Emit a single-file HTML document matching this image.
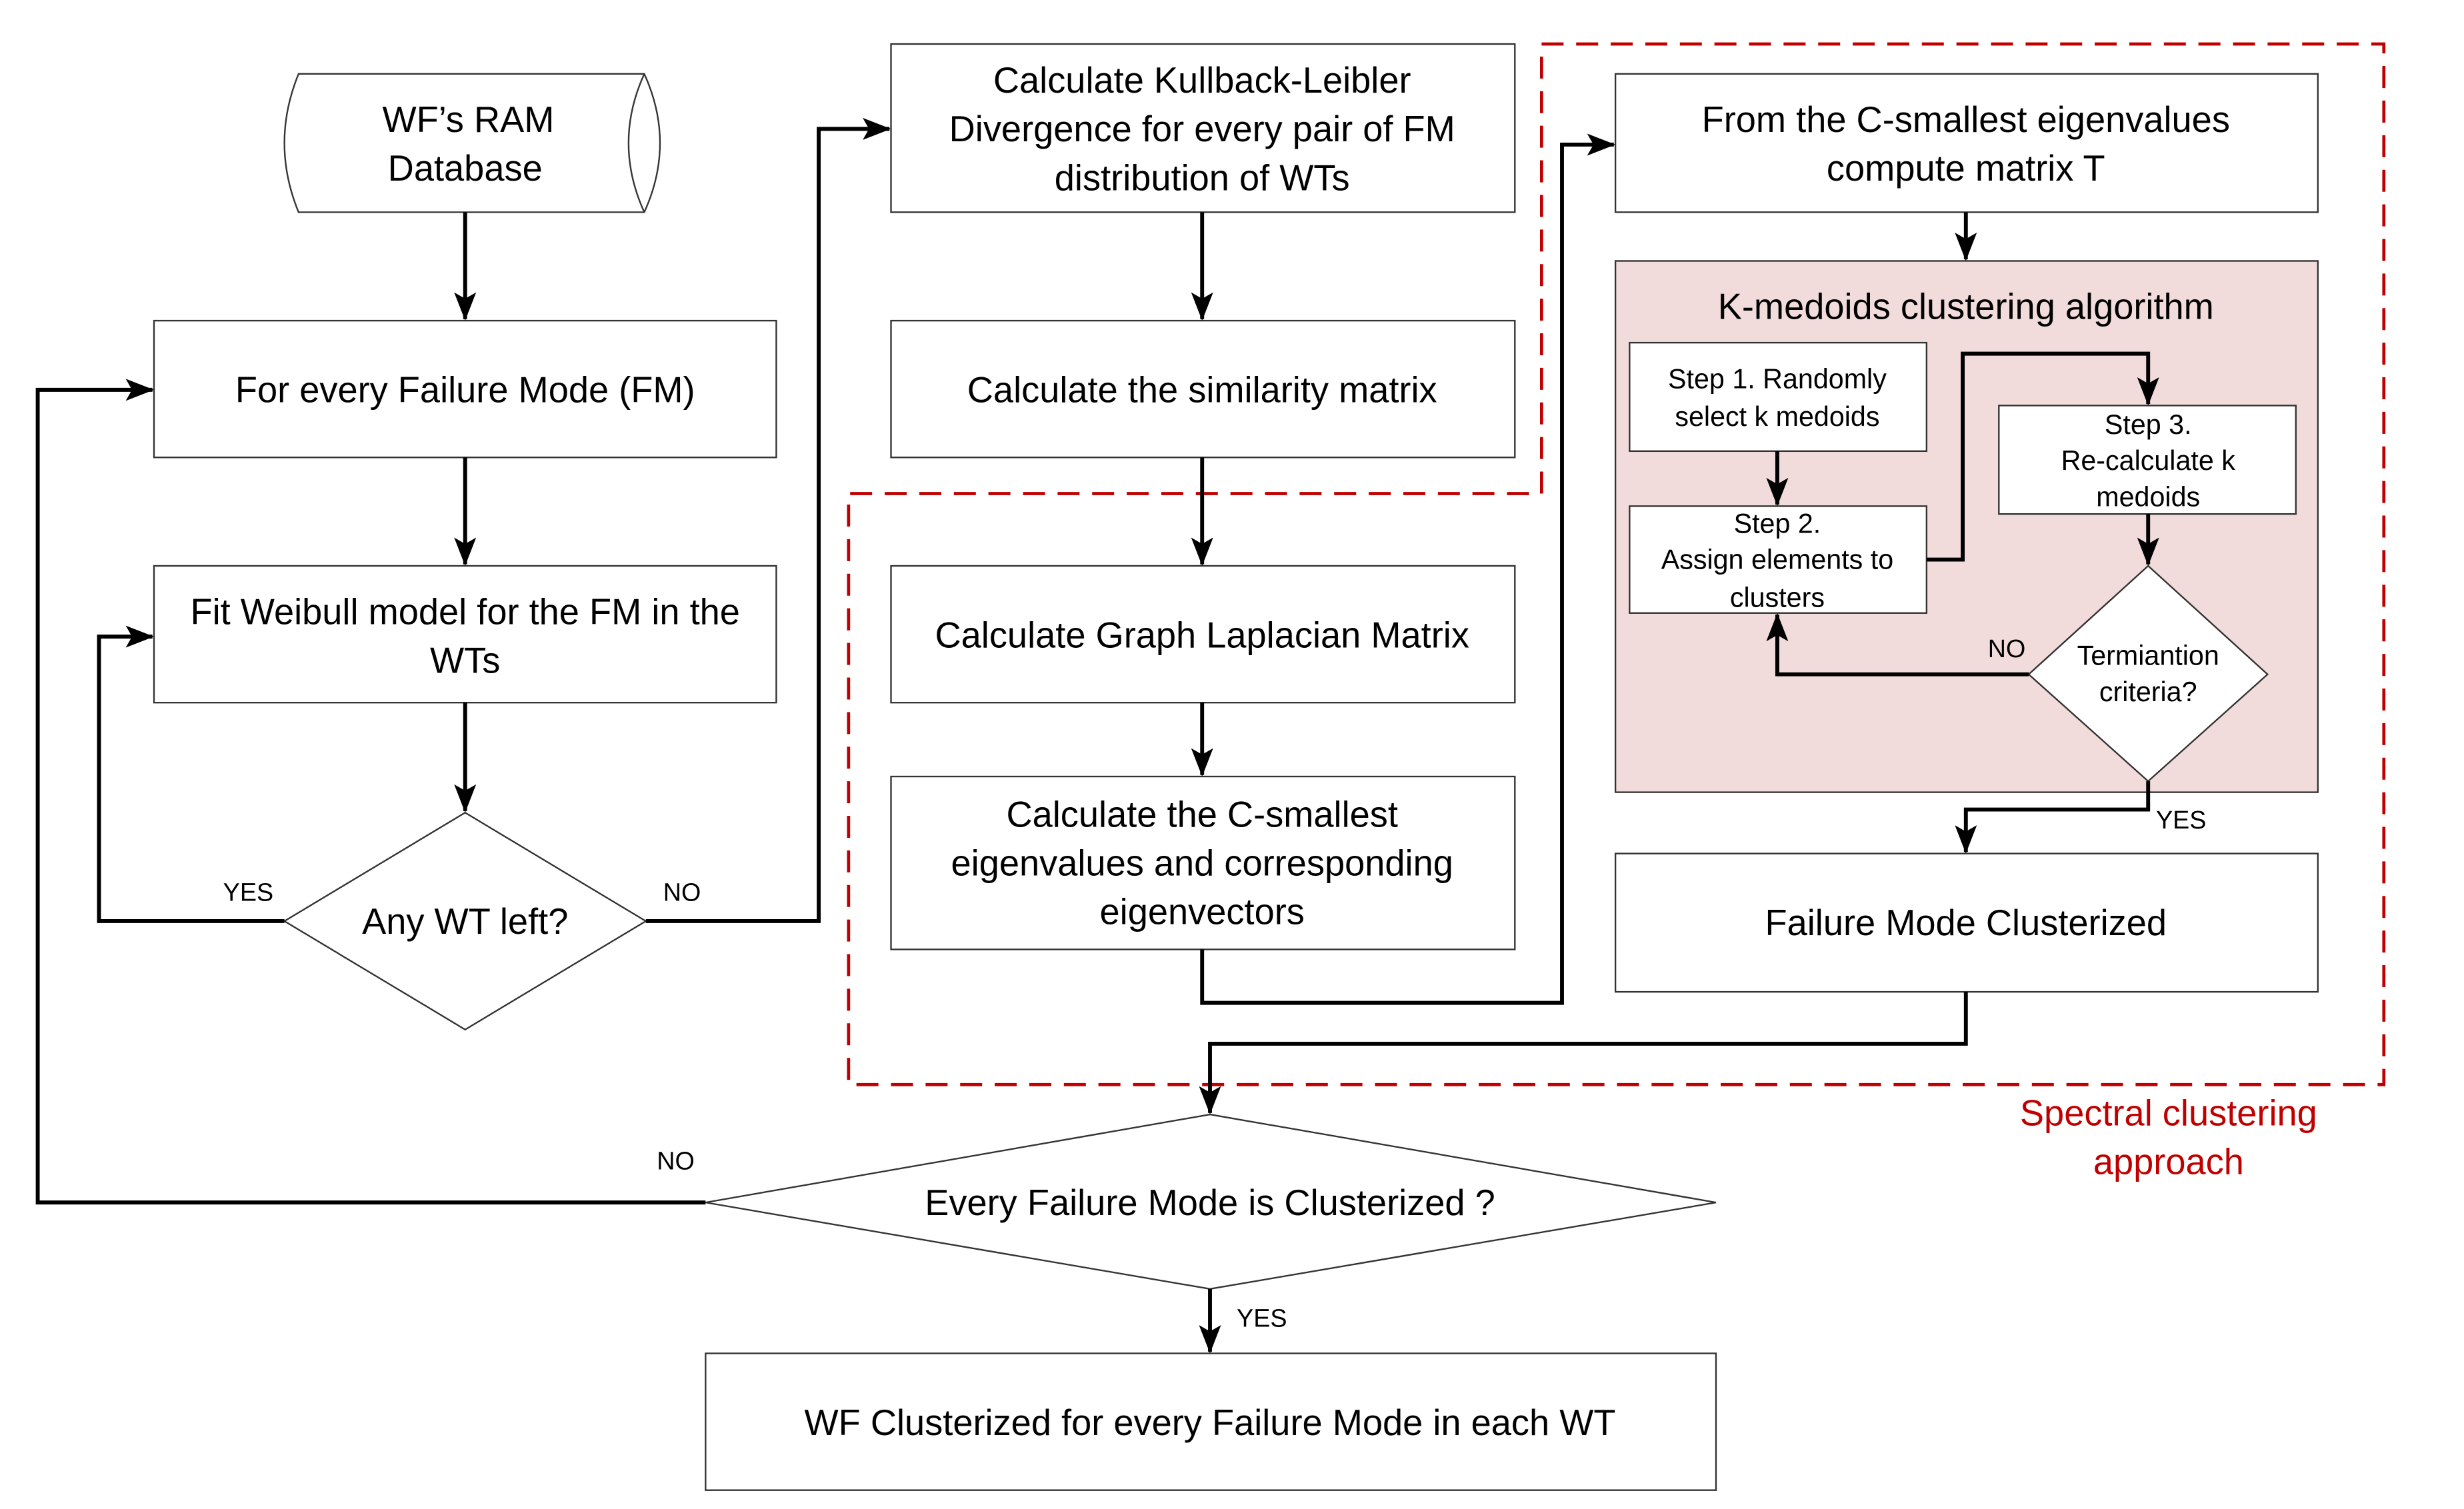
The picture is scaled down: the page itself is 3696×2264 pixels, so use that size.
<!DOCTYPE html>
<html><head><meta charset="utf-8"><style>html,body{margin:0;padding:0;background:#fff}svg{display:block}</style></head>
<body>
<svg xmlns="http://www.w3.org/2000/svg" width="3696" height="2264" viewBox="0 0 1568 960" preserveAspectRatio="none" font-family="Liberation Sans, sans-serif" text-anchor="middle">
<defs>
<marker id="a" markerWidth="18" markerHeight="14" refX="17" refY="7" orient="auto" markerUnits="userSpaceOnUse">
<path d="M0,0 L18,7 L0,14 L4,7 Z" fill="#000"/></marker>
</defs>
<rect width="1568" height="960" fill="#fff"/>
<path d="M981,28 L1517,28 L1517,690 L540,690 L540,314 L981,314 Z" fill="none" stroke="#c00000" stroke-width="2" stroke-dasharray="14,8"/>
<g fill="none" stroke="#333" stroke-width="1">
<path d="M190,47 L410,47 Q430,91 410,135 L190,135 Q172,91 190,47 Z" fill="#fff"/>
<path d="M410,47 Q390,91 410,135"/>
<rect x="98" y="204" width="396" height="87" fill="#fff"/>
<rect x="98" y="360" width="396" height="87" fill="#fff"/>
<path d="M296,517 L411,586 L296,655 L181,586 Z" fill="#fff"/>
<rect x="567" y="28" width="397" height="107" fill="#fff"/>
<rect x="567" y="204" width="397" height="87" fill="#fff"/>
<rect x="567" y="360" width="397" height="87" fill="#fff"/>
<rect x="567" y="494" width="397" height="110" fill="#fff"/>
<rect x="1028" y="47" width="447" height="88" fill="#fff"/>
<rect x="1028" y="166" width="447" height="338" fill="#f2dcdb"/>
<rect x="1037" y="218" width="189" height="69" fill="#fff"/>
<rect x="1037" y="322" width="189" height="68" fill="#fff"/>
<rect x="1272" y="258" width="189" height="69" fill="#fff"/>
<path d="M1367,360 L1443,429 L1367,497 L1291,429 Z" fill="#fff"/>
<rect x="1028" y="543" width="447" height="88" fill="#fff"/>
<path d="M770,709 L1092,765 L770,820 L449,765 Z" fill="#fff"/>
<rect x="449" y="861" width="643" height="87" fill="#fff"/>
</g>
<g fill="none" stroke="#000" stroke-width="2.5" marker-end="url(#a)">
<path d="M296,135 L296,203"/>
<path d="M296,291 L296,359"/>
<path d="M296,447 L296,516"/>
<path d="M181,586 L63,586 L63,405 L97,405"/>
<path d="M411,586 L521,586 L521,82 L566,82"/>
<path d="M765,135 L765,203"/>
<path d="M765,291 L765,359"/>
<path d="M765,447 L765,493"/>
<path d="M765,604 L765,638 L994,638 L994,92 L1027,92"/>
<path d="M1251,135 L1251,165"/>
<path d="M1131,287 L1131,321"/>
<path d="M1226,356 L1249,356 L1249,225 L1367,225 L1367,257"/>
<path d="M1367,327 L1367,359"/>
<path d="M1291,429 L1131,429 L1131,391"/>
<path d="M1367,497 L1367,515 L1251,515 L1251,542"/>
<path d="M1251,631 L1251,664 L770,664 L770,708"/>
<path d="M449,765 L24,765 L24,248 L97,248"/>
<path d="M770,820 L770,860"/>
</g>
<g font-size="23" fill="#000">
<text x="298" y="84">WF’s RAM</text>
<text x="296" y="115">Database</text>
<text x="296" y="256">For every Failure Mode (FM)</text>
<text x="296" y="397">Fit Weibull model for the FM in the</text>
<text x="296" y="428">WTs</text>
<text x="296" y="594">Any WT left?</text>
<text x="765" y="59">Calculate Kullback-Leibler</text>
<text x="765" y="90">Divergence for every pair of FM</text>
<text x="765" y="121">distribution of WTs</text>
<text x="765" y="256">Calculate the similarity matrix</text>
<text x="765" y="412">Calculate Graph Laplacian Matrix</text>
<text x="765" y="526">Calculate the C-smallest</text>
<text x="765" y="557">eigenvalues and corresponding</text>
<text x="765" y="588">eigenvectors</text>
<text x="1251" y="84">From the C-smallest eigenvalues</text>
<text x="1251" y="115">compute matrix T</text>
<text x="1251" y="203">K-medoids clustering algorithm</text>
<text x="1251" y="595">Failure Mode Clusterized</text>
<text x="770" y="773">Every Failure Mode is Clusterized ?</text>
<text x="770" y="913">WF Clusterized for every Failure Mode in each WT</text>
</g>
<g font-size="17.5" fill="#000">
<text x="1131" y="247">Step 1. Randomly</text>
<text x="1131" y="271">select k medoids</text>
<text x="1131" y="339">Step 2.</text>
<text x="1131" y="362">Assign elements to</text>
<text x="1131" y="386">clusters</text>
<text x="1367" y="276">Step 3.</text>
<text x="1367" y="299">Re-calculate k</text>
<text x="1367" y="322">medoids</text>
<text x="1367" y="423">Termiantion</text>
<text x="1367" y="446">criteria?</text>
</g>
<g font-size="16" fill="#000">
<text x="158" y="573">YES</text>
<text x="434" y="573">NO</text>
<text x="1277" y="418">NO</text>
<text x="1388" y="527">YES</text>
<text x="430" y="744">NO</text>
<text x="803" y="844">YES</text>
</g>
<g font-size="23" fill="#c00000">
<text x="1380" y="716">Spectral clustering</text>
<text x="1380" y="747">approach</text>
</g>
</svg>
</body></html>
